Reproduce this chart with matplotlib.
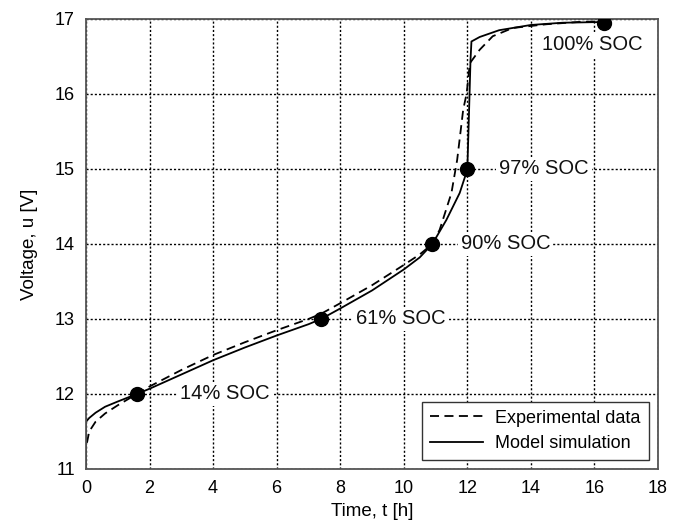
import matplotlib
matplotlib.use("Agg")
import matplotlib.pyplot as plt

plt.rcParams['font.family'] = ['Liberation Sans', 'DejaVu Sans']

# model simulation (solid)
model_t = [0, 0, 0.1, 0.3, 0.6, 1.0, 1.6, 2.0, 3.0, 4.0, 5.0, 6.0, 7.0, 7.4, 8.0,
           9.0, 10.0, 10.5, 10.9, 11.34, 11.76, 12.0, 12.05, 12.1, 12.13, 12.39,
           13.0, 14.0, 15.0, 16.3]
model_u = [11.0, 11.63, 11.68, 11.75, 11.83, 11.9, 12.0, 12.07, 12.26, 12.45, 12.62,
           12.78, 12.93, 13.0, 13.14, 13.38, 13.66, 13.82, 14.0, 14.32, 14.68, 14.99,
           15.7, 16.45, 16.70, 16.76, 16.85, 16.92, 16.95, 16.96]

# experimental data (dashed)
exp_t = [0.03, 0.1, 0.3, 0.6, 1.0, 1.6, 2.0, 3.0, 4.0, 5.0, 6.0, 7.0, 7.4, 8.0, 9.0,
         10.0, 10.5, 10.9, 11.13, 11.5, 11.68, 11.87, 11.98, 12.08, 12.39, 12.8,
         13.43, 14.5, 15.5, 16.3]
exp_u = [11.35, 11.5, 11.63, 11.74, 11.85, 12.0, 12.1, 12.32, 12.52, 12.69, 12.85,
         13.0, 13.07, 13.21, 13.45, 13.72, 13.86, 14.0, 14.19, 14.68, 15.12, 15.79,
         16.01, 16.41, 16.59, 16.77, 16.88, 16.93, 16.96, 16.97]

# state of charge markers
soc_t = [1.6, 7.4, 10.9, 12.0, 16.3]
soc_u = [12.0, 13.0, 14.0, 15.0, 16.95]
soc_labels = ['14% SOC', '61% SOC', '90% SOC', '97% SOC', '100% SOC']
label_dx = [1.36, 1.1, 0.9, 1.0, -1.95]
label_dy = [0, 0, 0, 0, -0.29]

fig = plt.figure(figsize=(6.8, 5.3), dpi=100)
ax = fig.add_axes([0.1265, 0.1151, 0.8411, 0.8491])

ax.plot(exp_t, exp_u, color='black', lw=1.3, ls=(0, (5, 3)), label='Experimental data')
ax.plot(model_t, model_u, color='black', lw=1.3, label='Model simulation')
ax.plot(soc_t, soc_u, 'o', color='black', ms=10, zorder=5)

for t, u, s, dx, dy in zip(soc_t, soc_u, soc_labels, label_dx, label_dy):
    ax.text(t + dx, u + dy, s, fontsize=14.5, va='center', ha='left', zorder=4,
            color='#111111', bbox=dict(facecolor='white', edgecolor='none', pad=2))

ax.set_xlim(0, 18)
ax.set_ylim(11, 17)
ax.set_xticks(range(0, 19, 2))
ax.set_yticks(range(11, 18))
ax.grid(True, color='black', ls=(0, (1.5, 1.5)), lw=1.0)
ax.tick_params(length=0, labelsize=13, pad=8)
for sp in ax.spines.values():
    sp.set_color('#555555')
    sp.set_linewidth(1.3)

ax.set_xlabel('Time, t [h]', fontsize=13.5, labelpad=4)
ax.set_ylabel('Voltage, u [V]', fontsize=13.5, labelpad=12)

leg = ax.legend(loc='lower right', fontsize=13, fancybox=False, framealpha=1,
                edgecolor='#333333', handlelength=2.9, handletextpad=0.7,
                borderpad=0.45, labelspacing=0.45, borderaxespad=0.5)
leg.get_frame().set_linewidth(1.0)

fig.savefig('out.png', dpi=100)
